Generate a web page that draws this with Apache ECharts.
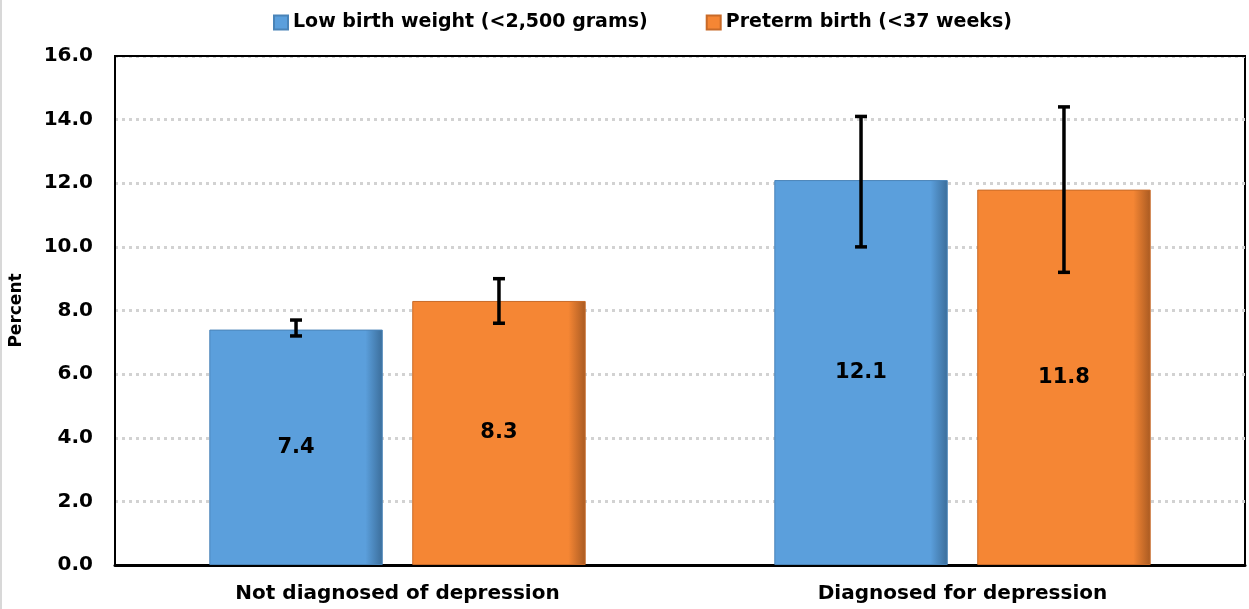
<!DOCTYPE html>
<html>
<head>
<meta charset="utf-8">
<script src="https://cdn.jsdelivr.net/npm/echarts@6/dist/echarts.min.js"></script>
<style>
html,body{margin:0;padding:0;background:#fff;}
#chart{width:1249px;height:609px;}
</style>
</head>
<body>
<div id="chart"></div>
<script>
// ---- Data ----
var categories = ['Not diagnosed of depression', 'Diagnosed for depression'];
var seriesNames = ['Low birth weight (<2,500 grams)', 'Preterm birth (<37 weeks)'];
var lowBirthWeight = [7.4, 12.1];
var pretermBirth = [8.3, 11.8];
var lowBirthWeightCI = [[7.2, 7.7], [10.0, 14.1]];
var pretermBirthCI = [[7.6, 9.0], [9.2, 14.4]];
var yTicks = [0, 2, 4, 6, 8, 10, 12, 14, 16];

var FONT = 'DejaVu Sans';
var BAR_W = 0.307, BAR_GAP = 0.17;

function barGradient(base, dark) {
  return new echarts.graphic.LinearGradient(0, 0, 1, 0, [
    {offset: 0, color: base},
    {offset: 0.9, color: base},
    {offset: 1, color: dark}
  ]);
}

function errData(ci) {
  return ci.map(function (d, i) { return [i, d[0], d[1]]; });
}

function errRender(sign) {
  return function (params, api) {
    var band = api.size([1, 0])[0];
    var off = sign * band * BAR_W * (1 + BAR_GAP) / 2;
    var lo = api.coord([api.value(0), api.value(1)]);
    var hi = api.coord([api.value(0), api.value(2)]);
    var x = lo[0] + off;
    var cap = 6;
    var st = {stroke: '#000', lineWidth: 3.5};
    return {
      type: 'group',
      children: [
        {type: 'line', shape: {x1: x, y1: lo[1], x2: x, y2: hi[1]}, style: st},
        {type: 'line', shape: {x1: x - cap, y1: lo[1], x2: x + cap, y2: lo[1]}, style: st},
        {type: 'line', shape: {x1: x - cap, y1: hi[1], x2: x + cap, y2: hi[1]}, style: st}
      ]
    };
  };
}

var chart = echarts.init(document.getElementById('chart'));
var labelStyle = {show: true, position: 'inside', color: '#000', fontFamily: FONT, fontWeight: 'bold', fontSize: 21,
  formatter: function (p) { return p.value.toFixed(1); }};

chart.setOption({
  animation: false,
  backgroundColor: '#fff',
  textStyle: {fontFamily: FONT},
  graphic: [{type: 'rect', left: 0, top: 0, shape: {width: 2, height: 609}, style: {fill: '#d8d8d8'}}],
  legend: {
    data: seriesNames,
    top: 8, left: 268,
    icon: 'rect',
    itemWidth: 14, itemHeight: 14, itemGap: 58,
    textStyle: {fontFamily: FONT, fontWeight: 'bold', fontSize: 19, color: '#000'}
  },
  grid: {left: 113, right: 4, top: 56, bottom: 44, show: true, borderColor: '#000', borderWidth: 2},
  xAxis: [{
    type: 'category', data: categories,
    axisLine: {lineStyle: {color: '#000', width: 3}},
    axisTick: {show: false},
    axisLabel: {fontFamily: FONT, fontWeight: 'bold', fontSize: 20, color: '#000', margin: 19}
  }, {
    type: 'category', data: categories, position: 'top',
    axisLine: {show: true, lineStyle: {color: '#000', width: 2}},
    axisTick: {show: false}, axisLabel: {show: false}, splitLine: {show: false}
  }],
  yAxis: {
    type: 'value', min: 0, max: 16, interval: 2,
    name: 'Percent', nameLocation: 'middle', nameGap: 90, nameRotate: 90,
    nameTextStyle: {fontFamily: FONT, fontWeight: 'bold', fontSize: 17, color: '#000'},
    axisLine: {show: true, lineStyle: {color: '#000', width: 2}},
    axisTick: {show: false},
    axisLabel: {fontFamily: FONT, fontWeight: 'bold', fontSize: 20, color: '#000', margin: 22,
      formatter: function (v) { return v.toFixed(1); }},
    splitLine: {show: true, lineStyle: {color: '#d2d2d2', width: 3, type: [3, 4]}}
  },
  series: [
    {
      name: seriesNames[0], type: 'bar', data: lowBirthWeight,
      barWidth: (BAR_W * 100) + '%', barGap: (BAR_GAP * 100) + '%',
      itemStyle: {color: barGradient('#5b9fdc', '#3b6d9a'), borderColor: '#4a84b8', borderWidth: 1},
      label: labelStyle
    },
    {
      name: seriesNames[1], type: 'bar', data: pretermBirth,
      barWidth: (BAR_W * 100) + '%', barGap: (BAR_GAP * 100) + '%',
      itemStyle: {color: barGradient('#f58634', '#a85a22'), borderColor: '#c86a28', borderWidth: 1},
      label: labelStyle
    },
    {type: 'custom', renderItem: errRender(-1), data: errData(lowBirthWeightCI), encode: {x: 0, y: [1, 2]}, z: 10},
    {type: 'custom', renderItem: errRender(1), data: errData(pretermBirthCI), encode: {x: 0, y: [1, 2]}, z: 10}
  ]
});
</script>
</body>
</html>
